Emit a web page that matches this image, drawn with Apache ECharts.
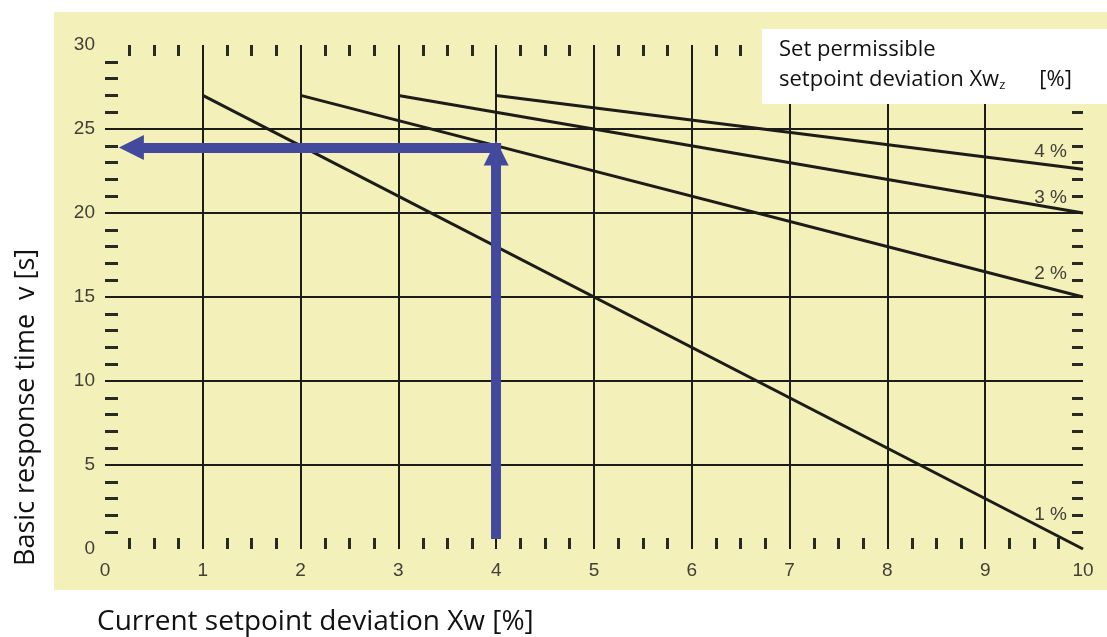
<!DOCTYPE html>
<html>
<head>
<meta charset="utf-8">
<style>
  html, body { margin: 0; padding: 0; background: #fff; }
  #chart { width: 1107px; height: 637px; }
</style>
<script src="https://cdn.jsdelivr.net/npm/echarts@6/dist/echarts.min.js"></script>
</head>
<body>
<div id="chart"></div>
<script>
// curves: Xw [%] -> response time [s], one per permissible deviation
var curveNames = ['1 %', '2 %', '3 %', '4 %'];
var curve1 = [[1, 27], [10, 0]];
var curve2 = [[2, 27], [10, 15]];
var curve3 = [[3, 27], [10, 20]];
var curve4 = [[4, 27], [10, 22.6]];
// label shift (px) of each curve name above its end
var labelShiftY = [-34, -23, -15, -18];

// reading example (blue arrows)
var arrowUp = [[4, 0.6], [4, 23.57]];
var arrowLeft = [[4.05, 23.9], [0.27, 23.9]];

var xTicks = [0, 10, 1];   // min, max, step
var yTicks = [0, 30, 5];

var ink = '#1c1c18';
var labelGray = '#404038';
var blue = '#434a9d';

var chart = echarts.init(document.getElementById('chart'));

function curve(name, data, dy) {
  return {
    name: name,
    type: 'line',
    data: data,
    symbol: 'none',
    lineStyle: { color: ink, width: 3 },
    endLabel: {
      show: true,
      formatter: name,
      distance: 0,
      align: 'right',
      offset: [-16, dy],
      color: labelGray,
      fontFamily: 'Liberation Sans',
      fontSize: 19
    },
    silent: true
  };
}

function xAxisOf(pos, len) {
  return {
    type: 'value',
    position: pos,
    min: xTicks[0], max: xTicks[1], interval: xTicks[2],
    axisLine: { show: false, onZero: false },
    axisTick: { show: false, inside: true },
    minorTick: { show: true, splitNumber: 4, length: len, lineStyle: { color: '#2a2a24', width: 3 } }
  };
}
function yAxisOf(pos, len) {
  return {
    type: 'value',
    position: pos,
    min: yTicks[0], max: yTicks[1], interval: yTicks[2],
    axisLine: { show: false, onZero: false },
    axisTick: { show: false, inside: true },
    minorTick: { show: true, splitNumber: 5, length: len, lineStyle: { color: '#2a2a24', width: 3 } }
  };
}

var xBottom = xAxisOf('bottom', 11);
xBottom.axisLabel = { margin: 12, color: labelGray, fontFamily: 'Liberation Sans', fontSize: 19 };
xBottom.splitLine = { show: true, showMinLine: false, showMaxLine: false, lineStyle: { color: ink, width: 2 } };
var xTop = xAxisOf('top', 11);
xTop.axisLabel = { show: false };
xTop.splitLine = { show: false };

var yLeft = yAxisOf('left', 13);
yLeft.axisLabel = { margin: 10, color: labelGray, fontFamily: 'Liberation Sans', fontSize: 19 };
yLeft.splitLine = { show: true, showMinLine: false, showMaxLine: false, lineStyle: { color: ink, width: 2 } };
var yRight = yAxisOf('right', 11);
yRight.axisLabel = { show: false };
yRight.splitLine = { show: false };

var option = {
  animation: false,
  grid: { left: 105, right: 24, top: 45, bottom: 88 },
  xAxis: [xBottom, xTop],
  yAxis: [yLeft, yRight],
  graphic: [
    { type: 'rect', z: -10, shape: { x: 54, y: 12, width: 1053, height: 578 }, style: { fill: '#f4f0b9' } },
    { type: 'rect', z: 100, shape: { x: 762, y: 29, width: 345, height: 75 }, style: { fill: '#ffffff' } },
    {
      type: 'text', z: 101, x: 779, y: 35,
      style: {
        text: 'Set permissible\nsetpoint deviation Xw{sub|z}{gap| }[%]',
        fill: '#111', font: '22px "Open Sans"', lineHeight: 30,
        rich: {
          sub: { fontSize: 13, fontFamily: 'Open Sans', fill: '#111', padding: [10, 0, 0, 0] },
          gap: { fontSize: 22, fontFamily: 'Open Sans', width: 34 }
        }
      }
    },
    {
      type: 'text', x: 97, y: 622,
      style: { text: 'Current setpoint deviation Xw [%]', fill: '#111', font: '28px "Open Sans"', verticalAlign: 'middle' }
    },
    {
      type: 'text', x: 26, y: 566, rotation: Math.PI / 2,
      style: { text: 'Basic response time  v [s]', fill: '#111', font: '27px "Open Sans"', verticalAlign: 'middle' }
    }
  ],
  series: [
    curve(curveNames[0], curve1, labelShiftY[0]),
    curve(curveNames[1], curve2, labelShiftY[1]),
    curve(curveNames[2], curve3, labelShiftY[2]),
    curve(curveNames[3], curve4, labelShiftY[3]),
    {
      name: 'reading',
      type: 'line',
      data: [],
      silent: true,
      markLine: {
        silent: true,
        symbol: ['none', 'triangle'],
        symbolSize: 25,
        label: { show: false },
        emphasis: { disabled: true },
        lineStyle: { color: blue, width: 10, type: 'solid', opacity: 1 },
        data: [
          [{ coord: arrowUp[0] }, { coord: arrowUp[1] }],
          [{ coord: arrowLeft[0] }, { coord: arrowLeft[1] }]
        ]
      }
    }
  ]
};

chart.setOption(option);
</script>
</body>
</html>
